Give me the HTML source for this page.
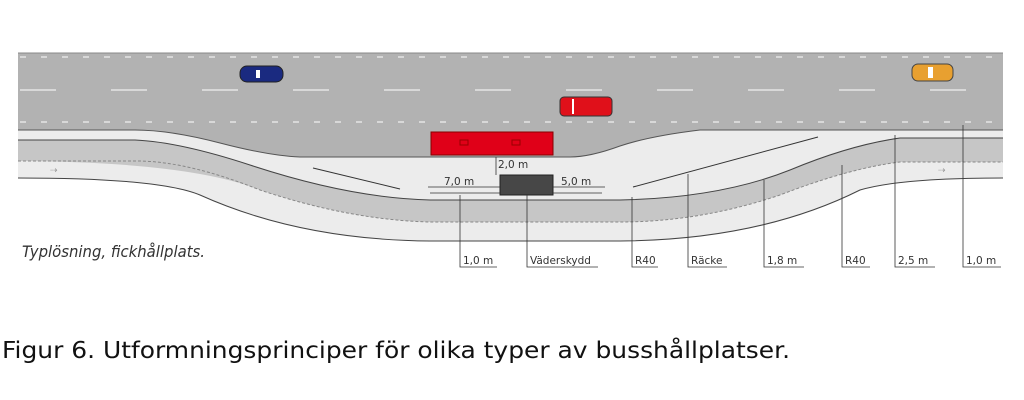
<!DOCTYPE html>
<html><head><meta charset="utf-8"><style>
html,body{margin:0;padding:0;background:#fff;width:1024px;height:400px;overflow:hidden}
svg{display:block}
</style></head><body>
<svg width="1024" height="400" viewBox="0 0 1024 400" xmlns="http://www.w3.org/2000/svg">
<path d="M18 130 L1003 130 L1003 178 Q900 178 860 190 Q760 240 620 241 L430 241 Q300 240 200 195 Q160 178 18 178 Z" fill="#ececec"/>
<path d="M18 140 L135 140 Q180 142 250 165 Q350 198 430 200 L620 200 Q720 198 790 170 Q850 145 900 138 L1003 138 L1003 162 L900 162 Q850 168 780 195 Q700 222 620 222 L430 222 Q350 220 260 190 Q190 162 18 161 Z" fill="#c6c6c6"/>
<path d="M18 53 L1003 53 L1003 130 L700 130 Q650 136 620 146 Q590 157 570 157 L300 157 Q270 156 220 143 Q170 130 135 130 L18 130 Z" fill="#b2b2b2"/>
<line x1="18" y1="53" x2="1003" y2="53" stroke="#888" stroke-width="1"/>
<line x1="20" y1="57" x2="1003" y2="57" stroke="#eee" stroke-width="1.3" stroke-dasharray="6,15"/>
<line x1="20" y1="122" x2="1003" y2="122" stroke="#eee" stroke-width="1.3" stroke-dasharray="6,15"/>
<line x1="20" y1="90" x2="1003" y2="90" stroke="#eee" stroke-width="1.3" stroke-dasharray="36,55"/>
<path d="M18 130 L135 130 Q170 130 220 143 Q270 156 300 157 L570 157 Q590 157 620 146 Q650 136 700 130 L1003 130" fill="none" stroke="#555" stroke-width="1"/>
<path d="M18 140 L135 140 Q180 142 250 165 Q350 198 430 200 L620 200 Q720 198 790 170 Q850 145 900 138 L1003 138" fill="none" stroke="#444" stroke-width="1"/>
<path d="M18 161 L140 161 Q190 162 260 190 Q350 220 430 222 L620 222 Q700 222 780 195 Q850 168 900 162 L1003 162" fill="none" stroke="#888" stroke-width="1" stroke-dasharray="3,2"/>
<path d="M18 178 Q160 178 200 195 Q300 240 430 241 L620 241 Q760 240 860 190 Q900 178 1003 178" fill="none" stroke="#444" stroke-width="1"/>
<text x="50" y="173" font-family="Liberation Sans" font-size="9" fill="#999">⇢</text>
<text x="938" y="173" font-family="Liberation Sans" font-size="9" fill="#999">⇢</text>
<path d="M313 168 L400 189" stroke="#333" stroke-width="1" fill="none"/>
<path d="M633 187 L818 137" stroke="#333" stroke-width="1" fill="none"/>
<rect x="240" y="66" width="43" height="16" rx="7" fill="#1a2a80" stroke="#222"/>
<rect x="256" y="70" width="4" height="8" fill="#fff"/>
<rect x="560" y="97" width="52" height="19" rx="4" fill="#e0101a" stroke="#333"/>
<rect x="572" y="99" width="2" height="15" fill="#fff"/>
<rect x="912" y="64" width="41" height="17" rx="6" fill="#e8a030" stroke="#444"/>
<rect x="928" y="67" width="5" height="11" fill="#fff"/>
<rect x="431" y="132" width="122" height="23" fill="#e00018" stroke="#800" stroke-width="1"/>
<rect x="460" y="140" width="8" height="5" fill="none" stroke="#900"/>
<rect x="512" y="140" width="8" height="5" fill="none" stroke="#900"/>
<rect x="500" y="175" width="53" height="20" fill="#474747" stroke="#222"/>
<g stroke="#333" stroke-width="0.8" fill="none">
<line x1="496" y1="157" x2="496" y2="175"/>
<line x1="428" y1="187" x2="500" y2="187"/><line x1="430" y1="193" x2="500" y2="193"/>
<line x1="553" y1="187" x2="605" y2="187"/><line x1="553" y1="193" x2="602" y2="193"/>
<polyline points="460,195 460,267 497,267"/>
<polyline points="527,195 527,267 598,267"/>
<polyline points="632,197 632,267 658,267"/>
<polyline points="688,174 688,267 727,267"/>
<polyline points="764,180 764,267 804,267"/>
<polyline points="842,165 842,267 870,267"/>
<polyline points="895,135 895,267 935,267"/>
<polyline points="963,125 963,267 1001,267"/>
</g>
<g font-family="DejaVu Sans, Liberation Sans, sans-serif" font-size="10.5" fill="#333">
<text x="498" y="168">2,0 m</text>
<text x="444" y="185">7,0 m</text>
<text x="561" y="185">5,0 m</text>
<text x="463" y="264">1,0 m</text>
<text x="530" y="264">Väderskydd</text>
<text x="635" y="264">R40</text>
<text x="691" y="264">Räcke</text>
<text x="767" y="264">1,8 m</text>
<text x="845" y="264">R40</text>
<text x="898" y="264">2,5 m</text>
<text x="966" y="264">1,0 m</text>
</g>
<text x="22" y="257" font-family="DejaVu Sans, sans-serif" font-style="italic" font-size="16" fill="#333" textLength="183" lengthAdjust="spacingAndGlyphs">Typlösning, fickhållplats.</text>
<text x="2" y="358" font-family="DejaVu Sans, sans-serif" font-size="23" fill="#111" textLength="788" lengthAdjust="spacingAndGlyphs">Figur 6. Utformningsprinciper för olika typer av busshållplatser.</text>
</svg>
</body></html>
